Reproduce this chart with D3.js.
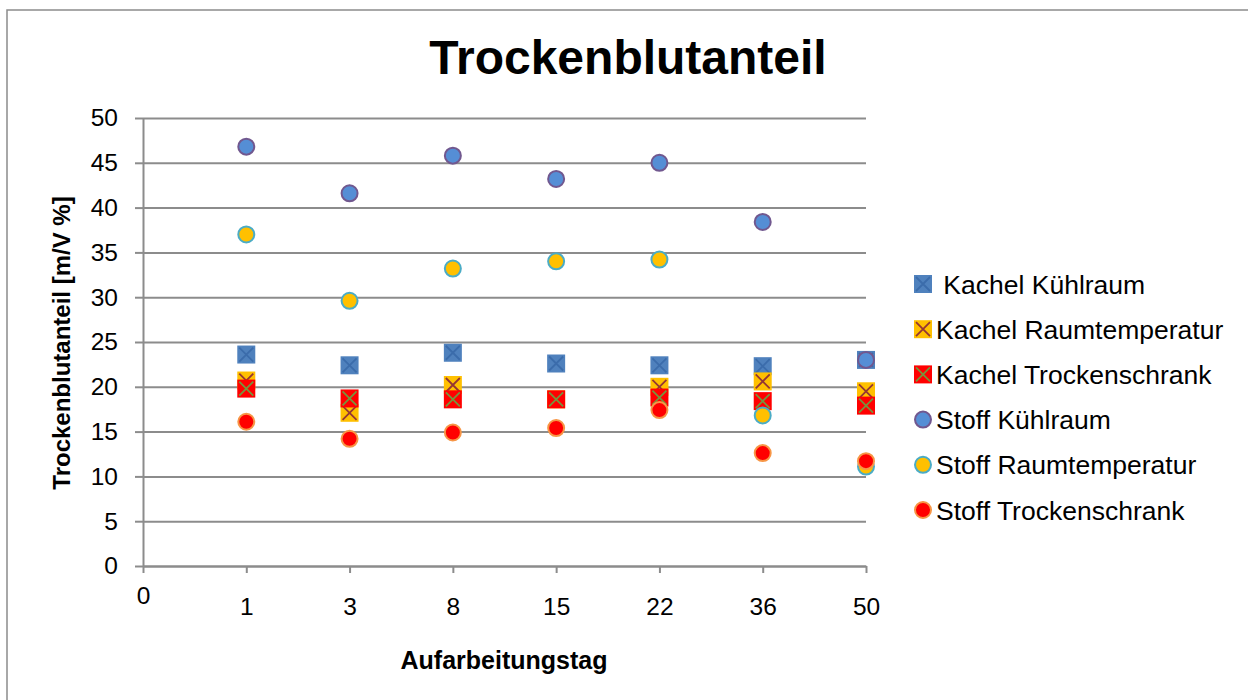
<!DOCTYPE html>
<html>
<head>
<meta charset="utf-8">
<script src="https://cdn.jsdelivr.net/npm/d3@7"></script>
<style>
  body { margin: 0; background: #fff; }
  svg text { font-family: Arial, "Liberation Sans", sans-serif; fill: #000; }
</style>
</head>
<body>
<svg id="chart" width="1248" height="700"></svg>
<script>
// x positions are category slots 0..7, labelled with the processing day
var xTickLabels = ["0", "1", "3", "8", "15", "22", "36", "50"];
var dayIndex = [1, 2, 3, 4, 5, 6, 7];

var seriesNames = [" Kachel Kühlraum", "Kachel Raumtemperatur", "Kachel Trockenschrank",
                   "Stoff Kühlraum", "Stoff Raumtemperatur", "Stoff Trockenschrank"];

var kachelKuehl  = [23.6, 22.4, 23.8, 22.6, 22.4, 22.3, 23.0];
var kachelRaum   = [20.7, 17.1, 20.2, 18.6, 20.0, 20.6, 19.5];
var kachelTrock  = [19.8, 18.7, 18.6, 18.6, 18.8, 18.4, 17.9];
var stoffKuehl   = [46.8, 41.6, 45.8, 43.2, 45.0, 38.4, 23.0];
var stoffRaum    = [37.0, 29.6, 33.2, 34.0, 34.2, 16.8, 11.1];
var stoffTrock   = [16.1, 14.2, 14.9, 15.4, 17.4, 12.6, 11.7];

var seriesValues = [kachelKuehl, kachelRaum, kachelTrock, stoffKuehl, stoffRaum, stoffTrock];

// marker style per series
var markerShape = ["square", "square", "square", "circle", "circle", "circle"];
var markerFill  = ["#4f81bd", "#ffc000", "#ff0000", "#558ed5", "#ffc000", "#ff0000"];
var markerLine  = ["#3b6cab", "#943634", "#77933c", "#71588f", "#4bacc6", "#f79646"];

var svg = d3.select("#chart");

// outer chart frame (runs off the right and bottom edge)
svg.append("rect")
    .attr("x", 7).attr("y", 10)
    .attr("width", 1270).attr("height", 720)
    .attr("fill", "none")
    .attr("stroke", "#8c8c8c")
    .attr("stroke-width", 1.5);

var x = d3.scaleLinear().domain([0, 7]).range([143, 866]);
var y = d3.scaleLinear().domain([0, 50]).range([566, 118]);

// gridlines
svg.append("g")
    .attr("transform", "translate(143,0)")
    .call(d3.axisLeft(y).ticks(10).tickSize(-(866 - 143)).tickFormat(""))
    .call(function(g) {
        g.select(".domain").remove();
        g.selectAll("line").attr("stroke", "#8c8c8c").attr("stroke-width", 2);
    });

// y axis
var yAxis = svg.append("g")
    .attr("transform", "translate(143,0)")
    .call(d3.axisLeft(y).ticks(10).tickSize(8).tickSizeOuter(0).tickPadding(17));
yAxis.select(".domain").attr("stroke", "#8c8c8c").attr("stroke-width", 2);
yAxis.selectAll("line").attr("stroke", "#8c8c8c").attr("stroke-width", 2);
yAxis.selectAll("text").style("font-size", "24.5px").attr("font-family", null);

// x axis
var xAxis = svg.append("g")
    .attr("transform", "translate(0,566)")
    .call(d3.axisBottom(x)
        .tickValues(d3.range(8))
        .tickFormat(function(d) { return xTickLabels[d]; })
        .tickSize(7).tickSizeOuter(0));
xAxis.select(".domain").attr("stroke", "#8c8c8c").attr("stroke-width", 2);
xAxis.selectAll("line").attr("stroke", "#8c8c8c").attr("stroke-width", 2);
xAxis.selectAll("text")
    .style("font-size", "24.5px")
    .attr("font-family", null)
    .attr("y", function(d) { return d === 0 ? 21 : 32; });

// markers
function drawMarker(g, shape, fill, line, size) {
    var h = size / 2;
    if (shape === "square") {
        g.append("rect")
            .attr("x", -h).attr("y", -h)
            .attr("width", size).attr("height", size)
            .attr("fill", fill);
        g.append("path")
            .attr("d", "M" + (-h + 2) + "," + (-h + 2) + "L" + (h - 2) + "," + (h - 2) +
                       "M" + (h - 2) + "," + (-h + 2) + "L" + (-h + 2) + "," + (h - 2))
            .attr("stroke", line)
            .attr("stroke-width", 1.8)
            .attr("fill", "none");
    } else {
        g.append("circle")
            .attr("r", h - 1)
            .attr("fill", fill)
            .attr("stroke", line)
            .attr("stroke-width", 2);
    }
}

var plot = svg.append("g");
seriesValues.forEach(function(vals, s) {
    var grp = plot.append("g").attr("class", "series");
    vals.forEach(function(v, i) {
        var m = grp.append("g")
            .attr("transform", "translate(" + x(dayIndex[i]) + "," + y(v) + ")");
        drawMarker(m, markerShape[s], markerFill[s], markerLine[s], 18);
    });
});

// title
svg.append("text")
    .attr("x", 628).attr("y", 74)
    .attr("text-anchor", "middle")
    .style("font-size", "48px")
    .style("font-weight", "bold")
    .text("Trockenblutanteil");

// axis titles
svg.append("text")
    .attr("transform", "translate(70,343) rotate(-90)")
    .attr("text-anchor", "middle")
    .style("font-size", "24px")
    .style("font-weight", "bold")
    .text("Trockenblutanteil [m/V %]");

svg.append("text")
    .attr("x", 504).attr("y", 669)
    .attr("text-anchor", "middle")
    .style("font-size", "25px")
    .style("font-weight", "bold")
    .text("Aufarbeitungstag");

// legend
var legend = svg.append("g")
    .selectAll("g")
    .data(seriesNames)
    .enter().append("g")
    .attr("transform", function(d, i) { return "translate(923," + (284 + i * 45.2) + ")"; });

legend.each(function(d, i) {
    drawMarker(d3.select(this), markerShape[i], markerFill[i], markerLine[i], 18);
});

legend.append("text")
    .attr("x", 13)
    .attr("dy", "0.36em")
    .style("font-size", "26.5px")
    .style("white-space", "pre")
    .text(function(d) { return d; });
</script>
</body>
</html>
